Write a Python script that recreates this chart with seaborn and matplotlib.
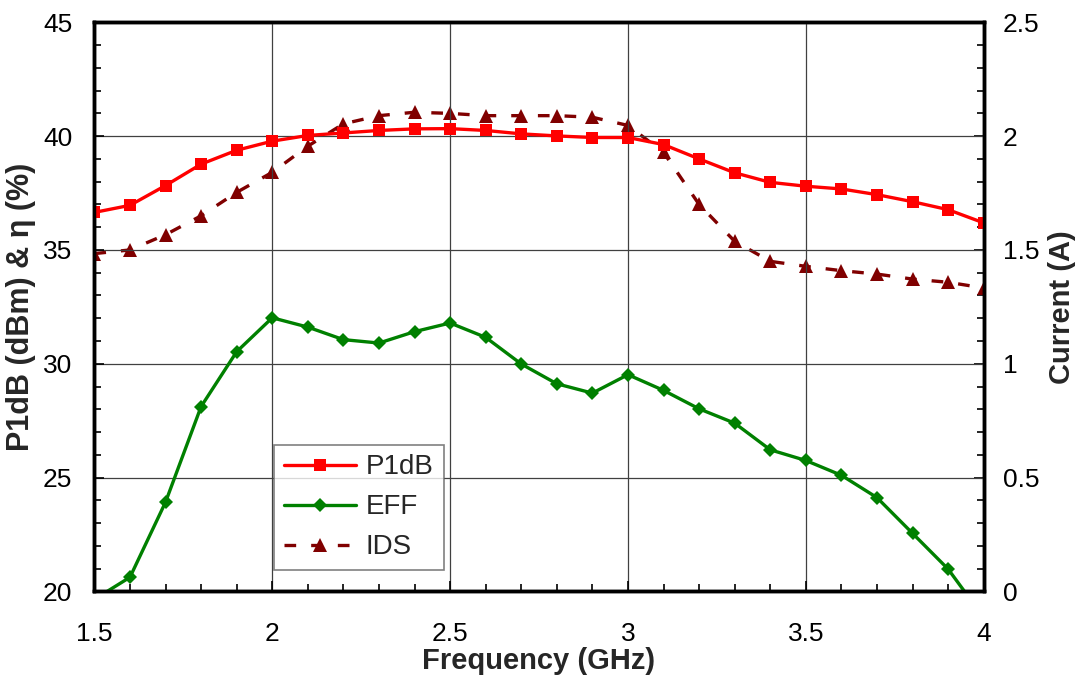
import numpy as np
import pandas as pd
import matplotlib
matplotlib.use("Agg")
import matplotlib.pyplot as plt
import seaborn as sns
from matplotlib.ticker import MultipleLocator, FuncFormatter

freq = [1.5, 1.6, 1.7, 1.8, 1.9, 2.0, 2.1, 2.2, 2.3, 2.4, 2.5, 2.6, 2.7,
        2.8, 2.9, 3.0, 3.1, 3.2, 3.3, 3.4, 3.5, 3.6, 3.7, 3.8, 3.9, 4.0]
p1db = [36.65, 36.96, 37.83, 38.77, 39.38, 39.78, 40.03, 40.14, 40.25, 40.32,
        40.33, 40.25, 40.10, 40.01, 39.94, 39.94, 39.63, 39.00, 38.39, 37.97,
        37.80, 37.68, 37.43, 37.12, 36.77, 36.19]
eff = [19.65, 20.62, 23.92, 28.12, 30.53, 32.02, 31.61, 31.06, 30.91, 31.41,
       31.79, 31.16, 29.99, 29.12, 28.71, 29.52, 28.83, 28.02, 27.39, 26.22,
       25.75, 25.10, 24.12, 22.55, 20.98, 18.85]
ids = [1.484, 1.50, 1.567, 1.65, 1.753, 1.841, 1.956, 2.054, 2.09, 2.105,
       2.10, 2.09, 2.09, 2.09, 2.083, 2.047, 1.929, 1.70, 1.538, 1.45,
       1.428, 1.409, 1.394, 1.372, 1.358, 1.333]

df = pd.DataFrame({"freq": freq, "P1dB": p1db, "EFF": eff, "IDS": ids})

sns.set_style("white")
plt.rcParams['font.family'] = ['Liberation Sans', 'DejaVu Sans']

fig = plt.figure(figsize=(10.8, 6.77), dpi=100)
ax = fig.add_axes([0.0874, 0.1265, 0.8234, 0.8405])
ax2 = ax.twinx()

sns.lineplot(data=df, x="freq", y="P1dB", ax=ax, color="#FF0000", lw=2.4,
             marker="s", markersize=8, markeredgewidth=0, label="P1dB", legend=False)
sns.lineplot(data=df, x="freq", y="EFF", ax=ax, color="#008000", lw=2.4,
             marker="D", markersize=7, markeredgewidth=0, label="EFF", legend=False)
sns.lineplot(data=df, x="freq", y="IDS", ax=ax2, color="#800000", lw=2.4,
             marker="^", markersize=9.5, markeredgewidth=0, label="IDS", legend=False)
ax2.lines[0].set_dashes([3.5, 4.5])

ax.set_xlim(1.5, 4)
ax.set_ylim(20, 45)
ax2.set_ylim(0, 2.5)

fmt = FuncFormatter(lambda v, p: f"{v:g}")
ax.xaxis.set_major_locator(MultipleLocator(0.5))
ax.xaxis.set_minor_locator(MultipleLocator(0.1))
ax.yaxis.set_major_locator(MultipleLocator(5))
ax.yaxis.set_minor_locator(MultipleLocator(1))
ax2.yaxis.set_major_locator(MultipleLocator(0.5))
ax2.yaxis.set_minor_locator(MultipleLocator(0.1))
ax.xaxis.set_major_formatter(fmt)
ax.yaxis.set_major_formatter(fmt)
ax2.yaxis.set_major_formatter(fmt)

ax.grid(True, which="major", color="#404040", lw=0.9)
ax.set_axisbelow(True)

for a in (ax, ax2):
    for s in a.spines.values():
        s.set_color("black")
        s.set_linewidth(2.5)
    a.tick_params(which="both", direction="in", labelsize=19, colors="black")
    a.tick_params(which="major", length=7, width=1.2)
    a.tick_params(which="minor", length=5, width=1.2)
ax.tick_params(axis="y", which="both", left=True, right=False, pad=16)
ax.tick_params(axis="x", which="both", bottom=True, top=False, pad=22)
ax2.tick_params(axis="y", which="both", right=True, left=False, pad=14)

ax.set_xlabel("Frequency (GHz)", fontsize=21, fontweight="bold")
ax.set_ylabel("P1dB (dBm) & η (%)", fontsize=22, fontweight="bold")
ax2.set_ylabel("Current (A)", fontsize=21, fontweight="bold")
ax.xaxis.set_label_coords(0.5, -0.097)
ax.yaxis.set_label_coords(-0.066, 0.5)
ax2.yaxis.set_label_coords(1.072, 0.5)

h1, l1 = ax.get_legend_handles_labels()
h2, l2 = ax2.get_legend_handles_labels()
leg = ax.legend(h1 + h2, l1 + l2, loc="lower left", bbox_to_anchor=(0.2023, 0.0376),
                fontsize=20, frameon=True, fancybox=False, edgecolor="#606060",
                handlelength=2.6, handletextpad=0.35, borderpad=0.35,
                labelspacing=0.5, borderaxespad=0)
leg.get_frame().set_linewidth(1.2)
leg.set_zorder(10)
ax.set_zorder(ax2.get_zorder() + 1)
ax.patch.set_visible(False)

fig.savefig("out.png", dpi=100)
